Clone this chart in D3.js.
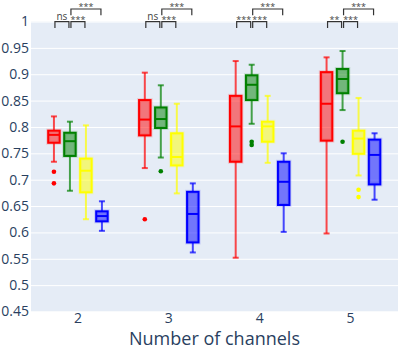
<!DOCTYPE html>
<html>
<head>
<meta charset="utf-8">
<script src="https://cdn.jsdelivr.net/npm/d3@7"></script>
<style>
  body { margin: 0; background: #fff; }
  text { font-family: "Open Sans", verdana, arial, sans-serif; }
</style>
</head>
<body>
<div id="chart"></div>
<script>
// categories on the x axis
var categories = ["2", "3", "4", "5"];
var yTicks = [0.45, 0.5, 0.55, 0.6, 0.65, 0.7, 0.75, 0.8, 0.85, 0.9, 0.95, 1];

// box stats per category: [lower whisker, q1, median, q3, upper whisker]
var redStats = [
  [0.734, 0.770, 0.785, 0.793, 0.820],
  [0.722, 0.784, 0.814, 0.851, 0.903],
  [0.552, 0.734, 0.801, 0.859, 0.925],
  [0.598, 0.774, 0.844, 0.904, 0.932]
];
var greenStats = [
  [0.679, 0.745, 0.773, 0.789, 0.810],
  [0.742, 0.798, 0.815, 0.837, 0.879],
  [0.806, 0.851, 0.880, 0.898, 0.918],
  [0.832, 0.864, 0.891, 0.910, 0.944]
];
var yellowStats = [
  [0.625, 0.676, 0.717, 0.740, 0.803],
  [0.674, 0.727, 0.743, 0.788, 0.844],
  [0.732, 0.772, 0.801, 0.810, 0.859],
  [0.708, 0.749, 0.778, 0.793, 0.855]
];
var blueStats = [
  [0.603, 0.621, 0.631, 0.640, 0.659],
  [0.562, 0.581, 0.635, 0.677, 0.693],
  [0.601, 0.652, 0.696, 0.734, 0.750],
  [0.662, 0.691, 0.747, 0.776, 0.788]
];

// outliers per category
var redOutliers = [[0.715, 0.693], [0.625], [], []];
var greenOutliers = [[], [0.716], [0.772, 0.766], [0.772]];
var yellowOutliers = [[], [], [], [0.681, 0.667]];
var blueOutliers = [[], [], [], []];

// significance labels per category: red-green, green-yellow, green-blue
var sigLabels = [
  ["ns", "***", "***"],
  ["ns", "***", "***"],
  ["***", "***", "***"],
  ["**", "***", "***"]
];

var series = [
  {stats: redStats, outliers: redOutliers, color: "#ff0000", fill: "rgba(255,0,0,0.5)"},
  {stats: greenStats, outliers: greenOutliers, color: "#008000", fill: "rgba(0,128,0,0.5)"},
  {stats: yellowStats, outliers: yellowOutliers, color: "#ffff00", fill: "rgba(255,255,0,0.5)"},
  {stats: blueStats, outliers: blueOutliers, color: "#0000ff", fill: "rgba(0,0,255,0.5)"}
];
var sigPairs = [[0, 1, 0], [1, 2, 0], [1, 3, 1]]; // [from, to, level]

var W = 407, H = 349;
var plot = {left: 31, right: 398, top: 21.5, bottom: 311.5};

var svg = d3.select("#chart").append("svg")
  .attr("width", W)
  .attr("height", H);

var x = d3.scaleBand().domain(categories).range([32.5, 396]);
var sub = d3.scaleBand().domain(d3.range(series.length)).range([-32, 32]);
var y = d3.scaleLinear().domain([0.45, 1]).range([plot.bottom, plot.top]);

function cx(i, j) {
  return x(categories[i]) + x.bandwidth() / 2 + sub(j) + sub.bandwidth() / 2;
}

// background
svg.append("rect")
  .attr("x", plot.left).attr("y", plot.top)
  .attr("width", plot.right - plot.left)
  .attr("height", plot.bottom - plot.top)
  .attr("fill", "#e5ecf6");

// gridlines
svg.append("g")
  .attr("transform", `translate(${plot.left},0)`)
  .call(d3.axisLeft(y).tickValues(yTicks).tickSize(-(plot.right - plot.left)).tickFormat(""))
  .call(g => g.select(".domain").remove())
  .call(g => g.selectAll("line").attr("stroke", "#fff").attr("stroke-width", 1));

// y labels
svg.append("g")
  .attr("transform", `translate(${plot.left},0)`)
  .call(d3.axisLeft(y).tickValues(yTicks).tickSize(0).tickPadding(2).tickFormat(d3.format("~g")))
  .call(g => g.select(".domain").remove())
  .call(g => g.selectAll("text")
    .attr("fill", "#2a3f5f")
    .style("font-size", "14px"));

// x labels
svg.append("g")
  .attr("transform", `translate(0,${plot.bottom})`)
  .call(d3.axisBottom(x).tickSize(0).tickPadding(2))
  .call(g => g.select(".domain").remove())
  .call(g => g.selectAll("text")
    .attr("fill", "#2a3f5f")
    .style("font-size", "14px"));

svg.append("text")
  .attr("x", (plot.left + plot.right) / 2)
  .attr("y", 345)
  .attr("text-anchor", "middle")
  .attr("fill", "#2a3f5f")
  .style("font-size", "18px")
  .text("Number of channels");

var boxW = 11.5, capW = 6;

series.forEach(function(s, j) {
  var g = svg.append("g");
  s.stats.forEach(function(st, i) {
    var c = cx(i, j);
    // whiskers
    g.append("line")
      .attr("x1", c).attr("x2", c)
      .attr("y1", y(st[0])).attr("y2", y(st[1]))
      .attr("stroke", s.color).attr("stroke-width", 2).attr("stroke-opacity", 0.7);
    g.append("line")
      .attr("x1", c).attr("x2", c)
      .attr("y1", y(st[3])).attr("y2", y(st[4]))
      .attr("stroke", s.color).attr("stroke-width", 2).attr("stroke-opacity", 0.7);
    [st[0], st[4]].forEach(function(v) {
      g.append("line")
        .attr("x1", c - capW / 2).attr("x2", c + capW / 2)
        .attr("y1", y(v)).attr("y2", y(v))
        .attr("stroke", s.color).attr("stroke-width", 2).attr("stroke-opacity", 0.7);
    });
    // halo + box
    g.append("rect")
      .attr("x", c - boxW / 2).attr("y", y(st[3]))
      .attr("width", boxW).attr("height", y(st[1]) - y(st[3]))
      .attr("fill", "none").attr("stroke", s.color)
      .attr("stroke-width", 4).attr("stroke-opacity", 0.15);
    g.append("rect")
      .attr("x", c - boxW / 2).attr("y", y(st[3]))
      .attr("width", boxW).attr("height", y(st[1]) - y(st[3]))
      .attr("fill", s.fill).attr("stroke", s.color).attr("stroke-width", 2);
    g.append("line")
      .attr("x1", c - boxW / 2).attr("x2", c + boxW / 2)
      .attr("y1", y(st[2])).attr("y2", y(st[2]))
      .attr("stroke", s.color).attr("stroke-width", 2);
    // outliers
    s.outliers[i].forEach(function(v) {
      g.append("circle")
        .attr("cx", c).attr("cy", y(v)).attr("r", 2.3)
        .attr("fill", s.color);
    });
  });
});

// significance brackets
var levelY = [21.7, 9];
var sig = svg.append("g");
categories.forEach(function(cat, i) {
  sigPairs.forEach(function(p, k) {
    var x1 = cx(i, p[0]) + 1, x2 = cx(i, p[1]) - 1;
    var ly = levelY[p[2]];
    sig.append("path")
      .attr("d", `M${x1},${ly + 6.3}V${ly}H${x2}V${ly + 6.3}`)
      .attr("fill", "none").attr("stroke", "#333").attr("stroke-width", 1.2);
    var lab = sigLabels[i][k];
    sig.append("text")
      .attr("x", (x1 + x2) / 2)
      .attr("y", lab === "ns" ? ly - 2 : ly + 1)
      .attr("text-anchor", "middle")
      .attr("fill", "#444")
      .style("font-size", lab === "ns" ? "10px" : "9px")
      .text(lab);
  });
});
</script>
</body>
</html>
